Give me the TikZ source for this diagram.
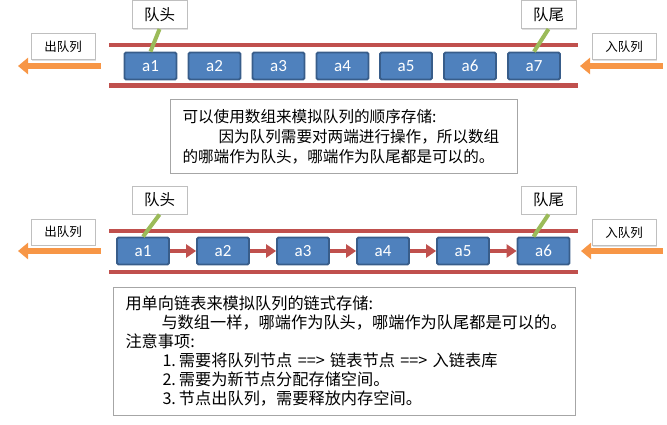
\documentclass[tikz,border=0pt]{standalone}
\usepackage{fontspec}
\setmainfont{Carlito}
\newfontfamily\cjk{Noto Sans CJK SC}
\newfontfamily\calfont{Carlito}
\usetikzlibrary{arrows.meta,shadows}
\definecolor{boxfill}{HTML}{4F81BD}
\definecolor{boxline}{HTML}{385D8A}
\definecolor{railred}{HTML}{C0504D}
\definecolor{linkgreen}{HTML}{9BBB59}
\definecolor{arroworange}{HTML}{F79646}
\definecolor{framegray}{HTML}{BFBFBF}
\definecolor{notegray}{HTML}{A6A6A6}
\tikzset{
  elem/.style={draw=boxline, line width=1.8pt, fill=boxfill, rounded corners=1.5pt,
    minimum width=52pt, minimum height=27pt, inner sep=0pt, text=white,
    font=\calfont\fontsize{17}{17}\selectfont},
  tag/.style={draw=framegray, line width=1pt, fill=white, minimum width=55pt,
    minimum height=28pt, inner sep=0pt, font=\cjk\fontsize{15.5}{15.5}\selectfont,
    drop shadow={shadow xshift=1pt, shadow yshift=-1pt, opacity=0.25}},
  side/.style={draw=framegray, line width=1pt, fill=white, minimum width=64pt,
    minimum height=26pt, inner sep=0pt, font=\cjk\fontsize{12.5}{12.5}\selectfont,
    drop shadow={shadow xshift=1pt, shadow yshift=-1pt, opacity=0.25}},
  rail/.style={draw=railred, line width=4.5pt},
  pointer/.style={draw=linkgreen, line width=4pt},
  flow/.style={draw=arroworange, line width=5.5pt, -{Triangle[length=10pt,width=16pt]}},
  link/.style={draw=railred, line width=3.5pt, -{Triangle[length=10pt,width=13pt]}},
  note/.style={draw=notegray, line width=1pt, fill=white, align=left, inner xsep=12pt,
    inner ysep=0pt, anchor=north west},
}
\begin{document}
\begin{tikzpicture}[x=1pt,y=-1pt]
\useasboundingbox (0,0) rectangle (667,424);

% ---------- top: array queue ----------
\coordinate (r1a) at (109,45);
\coordinate (r1b) at (578,45);
\coordinate (r2a) at (109,85.5);
\coordinate (r2b) at (578,85.5);
\draw[rail] (r1a) -- (r1b);
\draw[rail] (r2a) -- (r2b);

\node[elem] (a1) at (150.5,66) {a1};
\node[elem] (a2) at (214.5,66) {a2};
\node[elem] (a3) at (278.5,66) {a3};
\node[elem] (a4) at (342.5,66) {a4};
\node[elem] (a5) at (406,66) {a5};
\node[elem] (a6) at (470,66) {a6};
\node[elem] (a7) at (534,66) {a7};

\node[tag] (h1) at (159.5,14.5) {队头};
\node[tag] (t1) at (548.5,14.5) {队尾};
\draw[pointer] (h1.south) -- (a1.north);
\draw[pointer] (t1.south) -- (a7.north);

\node[side] (out1) at (63,46.5) {出队列};
\node[side] (in1) at (624,46.5) {入队列};
\coordinate (o1s) at (101,66);
\coordinate (o1e) at (18,66);
\coordinate (i1s) at (663,66);
\coordinate (i1e) at (580,66);
\draw[flow] (o1s) -- (o1e);
\draw[flow] (i1s) -- (i1e);

\node[note, minimum width=347pt, minimum height=74pt, text width=323pt,
  font=\cjk\fontsize{15.6}{20}\selectfont] (n1) at (170,99)
  {可以使用数组来模拟队列的顺序存储:\\
   \hspace*{36pt}因为队列需要对两端进行操作，所以数组\\
   的哪端作为队头，哪端作为队尾都是可以的。};

% ---------- bottom: linked-list queue ----------
\coordinate (r3a) at (109,231);
\coordinate (r3b) at (578,231);
\coordinate (r4a) at (109,272);
\coordinate (r4b) at (578,272);
\draw[rail] (r3a) -- (r3b);
\draw[rail] (r4a) -- (r4b);

\node[elem] (b1) at (143,251) {a1};
\node[elem] (b2) at (223,251) {a2};
\node[elem] (b3) at (303,251) {a3};
\node[elem] (b4) at (383,251) {a4};
\node[elem] (b5) at (463,251) {a5};
\node[elem] (b6) at (543.5,251) {a6};
\draw[link] (b1) -- (b2);
\draw[link] (b2) -- (b3);
\draw[link] (b3) -- (b4);
\draw[link] (b4) -- (b5);
\draw[link] (b5) -- (b6);

\node[tag] (h2) at (159.5,200) {队头};
\node[tag] (t2) at (548.5,200) {队尾};
\draw[pointer] (h2.south) -- (b1.north);
\draw[pointer] (t2.south) -- ([xshift=-10pt]b6.north);

\node[side] (out2) at (63,232) {出队列};
\node[side] (in2) at (624,232.5) {入队列};
\coordinate (o2s) at (101,251);
\coordinate (o2e) at (18,251);
\coordinate (i2s) at (663,251);
\coordinate (i2e) at (581,251);
\draw[flow] (o2s) -- (o2e);
\draw[flow] (i2s) -- (i2e);

\node[note, minimum width=462pt, minimum height=128pt, text width=438pt,
  font=\cjk\fontsize{16.2}{19}\selectfont] (n2) at (113,287)
  {用单向链表来模拟队列的链式存储:\\
   \hspace*{36pt}与数组一样，哪端作为队头，哪端作为队尾都是可以的。\\
   注意事项:\\
   \hspace*{37pt}1.\hspace{3pt}需要将队列节点 ==> 链表节点 ==> 入链表库\\
   \hspace*{37pt}2.\hspace{3pt}需要为新节点分配存储空间。\\
   \hspace*{37pt}3.\hspace{3pt}节点出队列，需要释放内存空间。};
\end{tikzpicture}
\end{document}
